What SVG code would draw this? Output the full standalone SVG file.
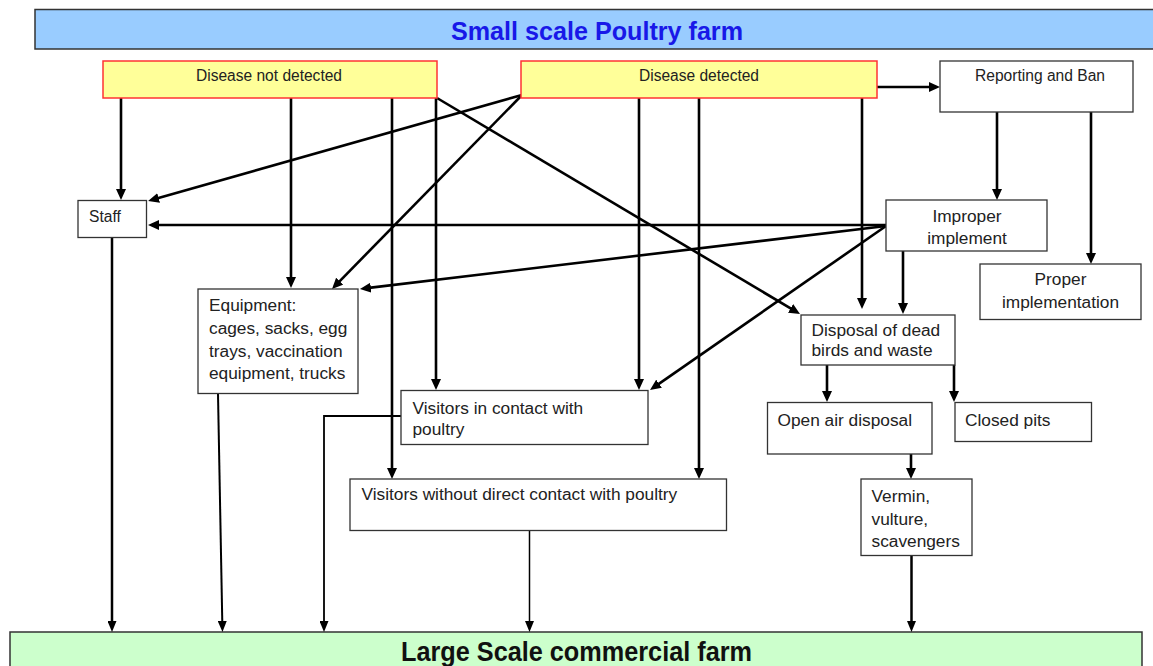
<svg xmlns="http://www.w3.org/2000/svg" width="1153" height="666" viewBox="0 0 1153 666">
  <style>
    .box { fill: #ffffff; stroke: #333333; stroke-width: 1.3; }
    .alert { fill: #ffff99; stroke: #ff3333; stroke-width: 1.5; }
    .lbl { font-family: "Liberation Sans", Arial, sans-serif; font-size: 17.3px; fill: #222222; }
    .sm { font-family: "Liberation Sans", Arial, sans-serif; font-size: 15.6px; fill: #222222; }
    .c { text-anchor: middle; }
    .edge { fill: none; stroke: #000000; stroke-width: 2.6; marker-end: url(#arrow); }
    .thin { fill: none; stroke: #000000; marker-end: url(#arrowSm); }
  </style>
  <defs>
    <marker id="arrow" viewBox="0 0 11 10" markerWidth="11" markerHeight="10" markerUnits="userSpaceOnUse" refX="2" refY="5" orient="auto">
      <path d="M0,0 L11,5 L0,10 z" fill="#000000"/>
    </marker>
    <marker id="arrowSm" viewBox="0 0 11 9" markerWidth="11" markerHeight="9" markerUnits="userSpaceOnUse" refX="2" refY="4.5" orient="auto">
      <path d="M0,0 L11,4.5 L0,9 z" fill="#000000"/>
    </marker>
  </defs>

  <rect width="1153" height="666" fill="#ffffff"/>

  <!-- source and destination banners -->
  <g id="small-farm">
    <rect x="35" y="9.5" width="1130" height="39.5" fill="#99ccff" stroke="#333333" stroke-width="1.5"/>
    <text x="451" y="39.5" font-family="Liberation Sans, Arial, sans-serif" font-size="26" font-weight="bold" fill="#1818e8" textLength="292" lengthAdjust="spacingAndGlyphs">Small scale Poultry farm</text>
  </g>
  <g id="large-farm">
    <rect x="10" y="632" width="1132" height="45" fill="#ccffcc" stroke="#333333" stroke-width="1.5"/>
    <text x="401" y="661" font-family="Liberation Sans, Arial, sans-serif" font-size="28" font-weight="bold" fill="#111111" textLength="351" lengthAdjust="spacingAndGlyphs">Large Scale commercial farm</text>
  </g>

  <!-- connectors -->
  <g id="connectors">
    <!-- from "Disease not detected" -->
    <path class="edge" d="M121,98 L121,191"/>
    <path class="edge" d="M291,98 L291,279"/>
    <path class="edge" d="M392,98 L392,470"/>
    <path class="edge" d="M436,98 L436,381"/>
    <path class="edge" d="M437,98 L792.3,309.4"/>
    <!-- from "Disease detected" -->
    <path class="edge" d="M522,95 L156.7,198.5"/>
    <path class="edge" d="M522,95 L338.3,282.6"/>
    <path class="edge" d="M639,98 L639,381"/>
    <path class="edge" d="M699,98 L699,470"/>
    <path class="edge" d="M862,98 L862,300"/>
    <path class="edge" d="M877,87 L931,87"/>
    <!-- from "Reporting and Ban" -->
    <path class="edge" d="M997,112 L997,191"/>
    <path class="edge" d="M1091,112 L1091,255"/>
    <!-- from "Improper implement" -->
    <path class="edge" d="M886,225 L157,225"/>
    <path class="edge" d="M886,226 L368.9,287.9"/>
    <path class="edge" d="M886,226 L657.4,384.9"/>
    <path class="edge" d="M903,251 L903,305"/>
    <!-- disposal branches -->
    <path class="edge" d="M827,365 L827,393"/>
    <path class="edge" d="M954,365 L954,393"/>
    <path class="edge" d="M911,454 L911,470"/>
    <!-- into the commercial farm -->
    <path class="thin" stroke-width="2.5" d="M112,237 L112,623"/>
    <path class="thin" stroke-width="2" d="M218,394 L222.3,623"/>
    <path class="thin" stroke-width="1.8" d="M401,416 L324,416 L324,623"/>
    <path class="thin" stroke-width="1.5" d="M529.5,531 L529.5,623"/>
    <path class="thin" stroke-width="2.5" d="M911.5,556 L911.5,623"/>
  </g>

  <!-- nodes -->
  <g id="disease-not-detected">
    <rect class="alert" x="103" y="61" width="334" height="37"/>
    <text x="196" y="81" font-family="Liberation Sans, Arial, sans-serif" font-size="16" fill="#222222" textLength="146" lengthAdjust="spacingAndGlyphs">Disease not detected</text>
  </g>
  <g id="disease-detected">
    <rect class="alert" x="521" y="61" width="356" height="37"/>
    <text x="639" y="81" font-family="Liberation Sans, Arial, sans-serif" font-size="16" fill="#222222" textLength="120" lengthAdjust="spacingAndGlyphs">Disease detected</text>
  </g>
  <g id="reporting">
    <rect class="box" x="940" y="61" width="193" height="51"/>
    <text x="975" y="81" font-family="Liberation Sans, Arial, sans-serif" font-size="16" fill="#222222" textLength="130" lengthAdjust="spacingAndGlyphs">Reporting and Ban</text>
  </g>
  <g id="staff">
    <rect class="box" x="78" y="200.5" width="68.5" height="37"/>
    <text class="sm" x="89" y="222">Staff</text>
  </g>
  <g id="improper">
    <rect class="box" x="886" y="200" width="161" height="51"/>
    <text class="lbl c" x="967" y="222">Improper</text>
    <text class="lbl c" x="967" y="244">implement</text>
  </g>
  <g id="proper">
    <rect class="box" x="980" y="264" width="161" height="55.5"/>
    <text class="lbl c" x="1060.5" y="285">Proper</text>
    <text class="lbl c" x="1060.5" y="308">implementation</text>
  </g>
  <g id="equipment">
    <rect class="box" x="198" y="289" width="160" height="104.5"/>
    <text class="lbl" x="209" y="311">Equipment:</text>
    <text class="lbl" x="209" y="333.5">cages, sacks, egg</text>
    <text class="lbl" x="209" y="356.5">trays, vaccination</text>
    <text class="lbl" x="209" y="379">equipment, trucks</text>
  </g>
  <g id="disposal">
    <rect class="box" x="801" y="315" width="154" height="50"/>
    <text class="lbl" x="811.5" y="335.5">Disposal of dead</text>
    <text class="lbl" x="811.5" y="356">birds and waste</text>
  </g>
  <g id="visitors-contact">
    <rect class="box" x="401" y="390.5" width="247" height="54"/>
    <text class="lbl" x="412.5" y="414">Visitors in contact with</text>
    <text class="lbl" x="412.5" y="435">poultry</text>
  </g>
  <g id="open-air">
    <rect class="box" x="767.5" y="402.5" width="164.5" height="51.5"/>
    <text class="lbl" x="777.5" y="426">Open air disposal</text>
  </g>
  <g id="closed-pits">
    <rect class="box" x="955" y="402.5" width="136.5" height="39"/>
    <text class="lbl" x="965" y="426">Closed pits</text>
  </g>
  <g id="visitors-no-contact">
    <rect class="box" x="350" y="479" width="376.5" height="51.5"/>
    <text class="lbl" x="361.5" y="500">Visitors without direct contact with poultry</text>
  </g>
  <g id="vermin">
    <rect class="box" x="861" y="479" width="111" height="76.5"/>
    <text class="lbl" x="871.5" y="501.5">Vermin,</text>
    <text class="lbl" x="871.5" y="525">vulture,</text>
    <text class="lbl" x="871.5" y="547">scavengers</text>
  </g>
</svg>
